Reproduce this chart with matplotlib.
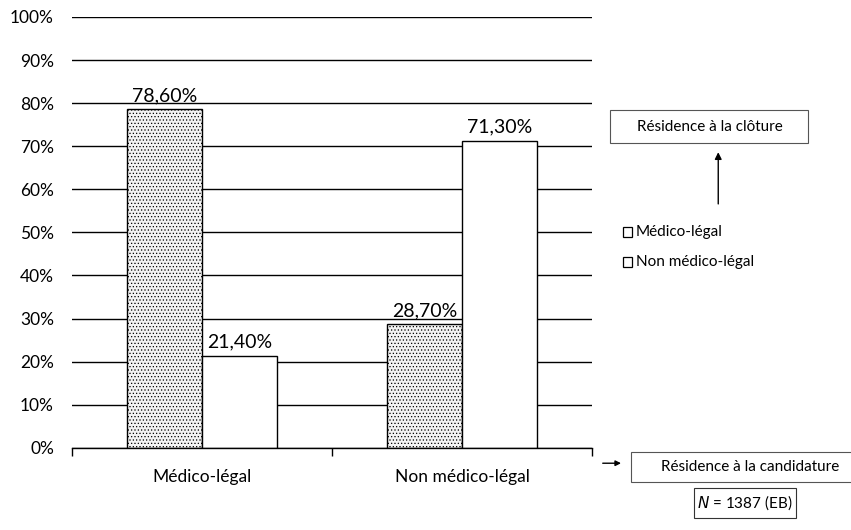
import matplotlib.pyplot as plt
import numpy as np

categories = ["Médico-légal", "Non médico-légal"]
series_names = ["Médico-légal", "Non médico-légal"]
medico_legal = [78.6, 28.7]
non_medico_legal = [21.4, 71.3]
y_ticks = [0, 10, 20, 30, 40, 50, 60, 70, 80, 90, 100]

plt.rcParams['font.family'] = ['Lato', 'DejaVu Sans']
plt.rcParams['hatch.color'] = '#c4c4c4'
plt.rcParams['hatch.linewidth'] = 0.5

fig = plt.figure(figsize=(8.51, 5.30), dpi=100)
ax = fig.add_axes([0.0846, 0.155, 0.611, 0.813])

x = np.arange(len(categories)) + 0.5
width = 0.288

ax.grid(True, axis='y', color='black', linewidth=1.0)
ax.set_axisbelow(True)

bars1 = ax.bar(x - width / 2, medico_legal, width, color='#f3f3f3',
               edgecolor='black', linewidth=1.0, hatch='.....',
               label=series_names[0])
bars2 = ax.bar(x + width / 2, non_medico_legal, width, color='white',
               edgecolor='black', linewidth=1.0, label=series_names[1])

for bars in (bars1, bars2):
    for bar in bars:
        h = bar.get_height()
        ax.text(bar.get_x() + bar.get_width() / 2, h + 1.2,
                f"{h:.2f}%".replace(".", ","), ha='center', va='bottom',
                fontsize=14)

ax.set_xlim(0, 2)
ax.set_ylim(0, 100)
ax.set_yticks(y_ticks)
ax.set_yticklabels([f"{v}%" for v in y_ticks], fontsize=12.5)
ax.tick_params(axis='y', length=0, pad=13)

ax.set_xticks([0, 1, 2])
ax.set_xticklabels([])
ax.set_xticks(x, minor=True)
ax.set_xticklabels(categories, minor=True, fontsize=12.5)
ax.tick_params(axis='x', which='major', length=6, direction='out', width=1)
ax.tick_params(axis='x', which='minor', length=0, pad=15)

for side in ('top', 'right', 'left'):
    ax.spines[side].set_visible(False)
ax.spines['bottom'].set_linewidth(1.0)

# legend-like labels on the right
for yy, name in ((0.562, series_names[0]), (0.505, series_names[1])):
    fig.patches.append(plt.Rectangle((0.732, yy - 0.009), 0.011, 0.019, transform=fig.transFigure,
                                     fill=False, edgecolor='black', linewidth=0.9))
    fig.text(0.747, yy, name, fontsize=11, va='center')

fig.text(0.834, 0.761, "Résidence à la clôture", fontsize=11, ha='center', va='center')
fig.patches.append(plt.Rectangle((0.717, 0.730), 0.232, 0.063, transform=fig.transFigure,
                                 fill=False, edgecolor='#555555', linewidth=0.8))

fig.text(0.881, 0.119, "Résidence à la candidature", fontsize=11, ha='center', va='center')
fig.patches.append(plt.Rectangle((0.741, 0.090), 0.26, 0.058, transform=fig.transFigure,
                                 fill=False, edgecolor='#555555', linewidth=0.8))

fig.text(0.875, 0.051, r"$\it{N}$ = 1387 (EB)", fontsize=11, ha='center', va='center')
fig.patches.append(plt.Rectangle((0.815, 0.023), 0.12, 0.057, transform=fig.transFigure,
                                 fill=False, edgecolor='#333333', linewidth=0.8))

ax.annotate("", xy=(0.844, 0.718), xytext=(0.844, 0.610), xycoords='figure fraction',
            arrowprops=dict(arrowstyle='-|>', color='black', linewidth=1.0, mutation_scale=10))
ax.annotate("", xy=(0.733, 0.126), xytext=(0.705, 0.126), xycoords='figure fraction',
            arrowprops=dict(arrowstyle='-|>', color='black', linewidth=1.0, mutation_scale=8))

fig.savefig("out.png", dpi=100)
